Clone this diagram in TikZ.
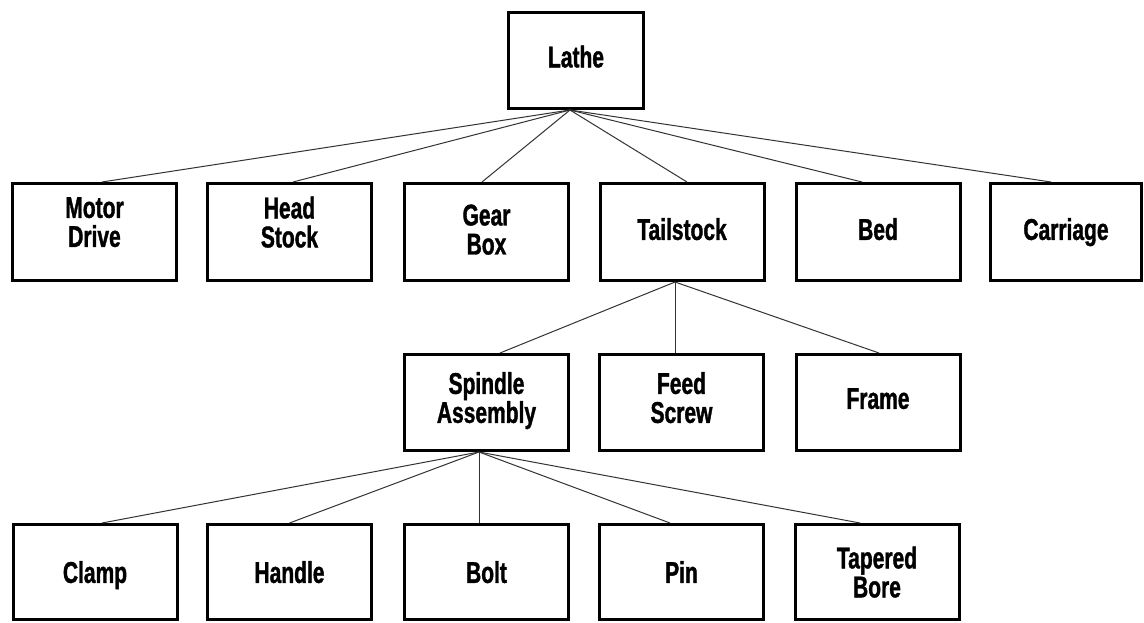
\documentclass[tikz,border=0pt]{standalone}
\usepackage{fontspec}
\setmainfont{Liberation Sans}[FakeStretch=0.7, BoldFeatures={FakeBold=1.2}]
\begin{document}
\begin{tikzpicture}[x=1pt,y=-1pt,
  box/.style={draw=black, line width=3pt, fill=white, minimum width=164pt,
    minimum height=97pt, inner sep=0pt, align=center, text depth=0pt,
    font=\fontsize{30}{29}\selectfont\bfseries},
  lift/.style={text depth=#1},
  link/.style={draw=black!80, line width=1pt}]
\useasboundingbox[fill=white] (0,0) rectangle (1144,622);

% top level
\node[box, lift=8pt, minimum width=135pt, minimum height=96pt] (lathe) at (576,60.5) {Lathe};

% first level
\node[box, lift=20pt] (md)  at (94.5,232)  {Motor\\Drive};
\node[box, lift=20pt] (hs)  at (289.5,232) {Head\\Stock};
\node[box, lift=5pt]  (gb)  at (486.5,232) {Gear\\Box};
\node[box, lift=6pt]  (ts)  at (682,232)   {Tailstock};
\node[box, lift=6pt]  (bed) at (878,232)   {Bed};
\node[box, lift=6pt, minimum width=151pt] (car) at (1066,232) {Carriage};

% tailstock parts
\node[box, lift=10pt, minimum height=96pt] (sa) at (486.5,402.5) {Spindle\\Assembly};
\node[box, lift=10pt, minimum height=96pt] (fs) at (681.5,402.5) {Feed\\Screw};
\node[box, lift=8pt,  minimum height=96pt] (fr) at (878,402.5)   {Frame};

% spindle assembly parts
\node[box, minimum height=95pt] (cl)  at (95,572)    {Clamp};
\node[box, minimum height=95pt] (ha)  at (289.5,572) {Handle};
\node[box, minimum height=95pt] (bo)  at (486.5,572) {Bolt};
\node[box, minimum height=95pt] (pin) at (681.5,572) {Pin};
\node[box, minimum height=95pt] (tb)  at (877,572)   {Tapered\\Bore};

% connectors from the lathe
\draw[link] ([xshift=-6pt]lathe.south) -- ([xshift=7.5pt]md.north);
\draw[link] ([xshift=-6pt]lathe.south) -- ([xshift=3.5pt]hs.north);
\draw[link] ([xshift=-6pt]lathe.south) -- ([xshift=-4.5pt]gb.north);
\draw[link] ([xshift=-6pt]lathe.south) -- ([xshift=5pt]ts.north);
\draw[link] ([xshift=-6pt]lathe.south) -- ([xshift=-16pt]bed.north);
\draw[link] ([xshift=-6pt]lathe.south) -- ([xshift=-15pt]car.north);

% connectors from the tailstock
\draw[link] ([xshift=-7pt]ts.south) -- ([xshift=13.5pt]sa.north);
\draw[link] ([xshift=-7pt]ts.south) -- ([xshift=-6.5pt]fs.north);
\draw[link] ([xshift=-7pt]ts.south) -- ([xshift=1pt]fr.north);

% connectors from the spindle assembly
\draw[link] ([xshift=-7.5pt]sa.south) -- ([xshift=7pt]cl.north);
\draw[link] ([xshift=-7.5pt]sa.south) -- ([xshift=0pt]ha.north);
\draw[link] ([xshift=-7.5pt]sa.south) -- ([xshift=-7.5pt]bo.north);
\draw[link] ([xshift=-7.5pt]sa.south) -- ([xshift=-11.5pt]pin.north);
\draw[link] ([xshift=-7.5pt]sa.south) -- ([xshift=-17pt]tb.north);
\end{tikzpicture}
\end{document}
